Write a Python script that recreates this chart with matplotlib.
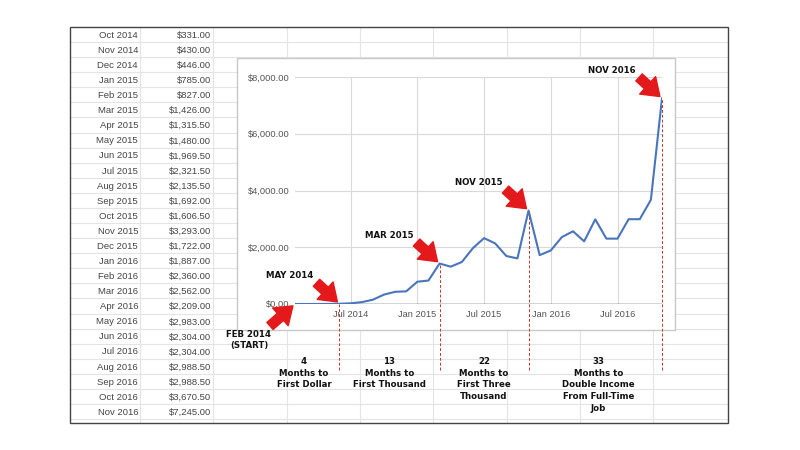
import matplotlib

matplotlib.use("Agg")
import matplotlib.pyplot as plt
import matplotlib.transforms as mtransforms
from matplotlib.patches import Rectangle

# monthly income, Feb 2014 .. Nov 2016
early_months = ["Feb 2014", "Mar 2014", "Apr 2014", "May 2014",
                "Jun 2014", "Jul 2014", "Aug 2014", "Sep 2014"]
early_values = [0, 0, 0, 2, 8, 25, 65, 150]  # scrolled out of the sheet

table_months = ["Oct 2014", "Nov 2014", "Dec 2014", "Jan 2015", "Feb 2015", "Mar 2015",
                "Apr 2015", "May 2015", "Jun 2015", "Jul 2015", "Aug 2015", "Sep 2015",
                "Oct 2015", "Nov 2015", "Dec 2015", "Jan 2016", "Feb 2016", "Mar 2016",
                "Apr 2016", "May 2016", "Jun 2016", "Jul 2016", "Aug 2016", "Sep 2016",
                "Oct 2016", "Nov 2016"]
table_values = [331.00, 430.00, 446.00, 785.00, 827.00, 1426.00,
                1315.50, 1480.00, 1969.50, 2321.50, 2135.50, 1692.00,
                1606.50, 3293.00, 1722.00, 1887.00, 2360.00, 2562.00,
                2209.00, 2983.00, 2304.00, 2304.00, 2988.50, 2988.50,
                3670.50, 7245.00]

months = early_months + table_months
values = early_values + table_values

x_tick_labels = ["Jul 2014", "Jan 2015", "Jul 2015", "Jan 2016", "Jul 2016"]
y_ticks = [0, 2000, 4000, 6000, 8000]

callout_labels = ["FEB 2014\n(START)", "MAY 2014", "MAR 2015", "NOV 2015", "NOV 2016"]
callout_months = ["Feb 2014", "Jun 2014", "Mar 2015", "Nov 2015", "Nov 2016"]
milestone_months = ["Jun 2014", "Mar 2015", "Nov 2015", "Nov 2016"]
milestone_texts = ["4\nMonths to\nFirst Dollar",
                   "13\nMonths to\nFirst Thousand",
                   "22\nMonths to\nFirst Three\nThousand",
                   "33\nMonths to\nDouble Income\nFrom Full-Time\nJob"]
milestone_text_x = [0.8, 8.5, 17.0, 27.3]

SHEET_FONT = "Liberation Sans"
LABEL_FONT = "DejaVu Sans"
RED = "#e3191c"

fig = plt.figure(figsize=(8, 4.5), dpi=100)
fig.patch.set_facecolor("white")

# background: the spreadsheet, in pixel coordinates
bg = fig.add_axes([0, 0, 1, 1])
bg.set_xlim(0, 800)
bg.set_ylim(450, 0)
bg.axis("off")

left, right, top, bottom = 70, 728, 27, 423
row_h = 15.08
for k in range(1, 27):
    y = top + k * row_h
    bg.plot([left, right], [y, y], color="#e4e4e4", lw=0.8, zorder=1)
for x in [140, 213, 287, 360, 433, 507, 580, 653]:
    bg.plot([x, x], [top, bottom], color="#e4e4e4", lw=0.8, zorder=1)
bg.add_patch(Rectangle((left, top), right - left, bottom - top, fill=False,
                       edgecolor="#444444", lw=1.0, zorder=3))
for i, (m, v) in enumerate(zip(table_months, table_values)):
    y = top + (i + 0.55) * row_h
    bg.text(138, y, m, ha="right", va="center", fontsize=6.8, color="#444444", family=SHEET_FONT)
    bg.text(211, y, f"${v:,.2f}", ha="right", va="center", fontsize=6.8, color="#444444",
            family=SHEET_FONT)

# chart frame sitting on top of the sheet
bg.add_patch(Rectangle((237, 58), 438, 272, facecolor="white", edgecolor="#c8c8c8",
                       lw=1.0, zorder=4))

# chart
ax = fig.add_axes([295 / 800, (450 - 304) / 450, (662 - 295) / 800, (304 - 77) / 450])
ax.patch.set_alpha(0)
xs = list(range(len(months)))
ax.plot(xs, values, color="#4a74bb", lw=1.5, zorder=3, solid_joinstyle="round")
ax.set_xlim(0, len(months) - 1)
ax.set_ylim(0, 8000)
ax.set_xticks([months.index(m) for m in x_tick_labels])
ax.set_xticklabels(x_tick_labels)
ax.set_yticks(y_ticks)
ax.set_yticklabels([f"${v:,.2f}" for v in y_ticks])
ax.tick_params(length=0, labelsize=6.7, labelcolor="#555555", pad=4)
for lbl in ax.get_xticklabels() + ax.get_yticklabels():
    lbl.set_family(SHEET_FONT)
ax.grid(True, color="#d9d9d9", lw=0.8)
ax.set_axisbelow(True)
for s in ax.spines.values():
    s.set_visible(False)
ax.axhline(0, color="#333333", lw=1.0, zorder=2)

# red dashed milestone markers running down below the chart
y_bottom = -(370 - 304) / 227 * 8000
for m in milestone_months:
    i = months.index(m)
    ax.vlines(i, y_bottom, values[i], color="#c0392b", lw=0.7, linestyles=(0, (3, 2)),
              clip_on=False, zorder=2)

# callout arrows and labels
arrow = dict(arrowstyle="simple,head_width=0.85,head_length=0.6,tail_width=0.34",
             mutation_scale=20, color=RED, shrinkA=0, shrinkB=2)
for lbl, m in zip(callout_labels, callout_months):
    i = months.index(m)
    below = lbl.startswith("FEB")
    tail = (-25, -22) if below else (-23, 21)
    text_off = (-46, -36) if below else (-50, 28)
    ax.annotate("", xy=(i, values[i]), xytext=tail, textcoords="offset pixels",
                arrowprops=arrow, annotation_clip=False, zorder=6)
    ax.annotate(lbl, xy=(i, values[i]), xytext=text_off, textcoords="offset pixels",
                ha="center", va="center", fontsize=6.2, fontweight="bold", family=LABEL_FONT,
                color="#111111", annotation_clip=False, linespacing=1.3, zorder=6)

# milestone captions under the chart (x in months, y in pixels)
blend = mtransforms.blended_transform_factory(ax.transData, bg.transData)
for tx, txt in zip(milestone_text_x, milestone_texts):
    ax.text(tx, 357, txt, transform=blend, ha="center", va="top", fontsize=6.2,
            fontweight="bold", family=LABEL_FONT, color="#111111", linespacing=1.38,
            clip_on=False)

fig.savefig("out.png", dpi=100, facecolor="white")
plt.close(fig)
